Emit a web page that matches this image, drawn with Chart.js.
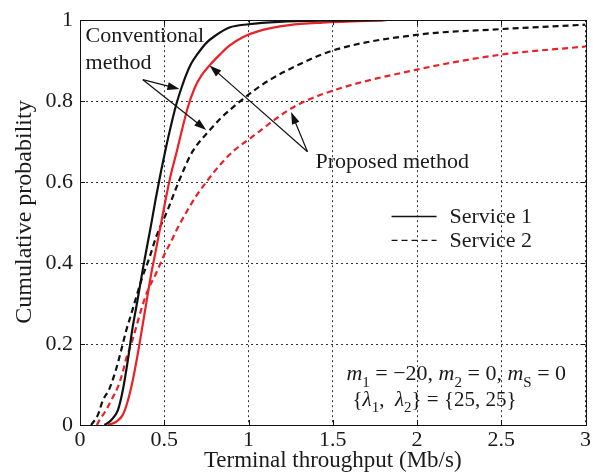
<!DOCTYPE html>
<html>
<head>
<meta charset="utf-8">
<script src="https://cdn.jsdelivr.net/npm/chart.js@4.4.0/dist/chart.umd.min.js"></script>
<style>
  html, body { margin: 0; padding: 0; background: #fff; }
  #wrap { width: 593px; height: 472px; }
</style>
</head>
<body>
<div id="wrap"><canvas id="cdfChart" width="593" height="472"></canvas></div>
<script>
// CDF of terminal throughput (Mb/s), two methods x two services

// conventional method, service 1
const convS1X = [0.145, 0.185, 0.225, 0.254, 0.284, 0.31, 0.34, 0.375, 0.42, 0.45, 0.48, 0.51, 0.54, 0.57, 0.60, 0.63, 0.66, 0.70, 0.75, 0.80, 0.887, 1.0, 1.18, 1.5, 1.8];
const convS1Y = [0, 0.012, 0.037, 0.086, 0.16, 0.235, 0.305, 0.39, 0.49, 0.56, 0.625, 0.685, 0.74, 0.79, 0.83, 0.865, 0.893, 0.918, 0.944, 0.961, 0.982, 0.99, 0.996, 0.999, 1.0];

// proposed method, service 1
const propS1X = [0.165, 0.215, 0.254, 0.284, 0.313, 0.343, 0.363, 0.393, 0.422, 0.452, 0.482, 0.512, 0.54, 0.571, 0.60, 0.64, 0.68, 0.72, 0.77, 0.83, 0.887, 0.966, 1.085, 1.243, 1.44, 1.82];
const propS1Y = [0, 0.008, 0.025, 0.06, 0.11, 0.176, 0.225, 0.30, 0.372, 0.435, 0.50, 0.565, 0.62, 0.67, 0.72, 0.785, 0.832, 0.863, 0.889, 0.915, 0.937, 0.958, 0.976, 0.988, 0.994, 1.0];

// conventional method, service 2
const convS2X = [0.066, 0.106, 0.135, 0.175, 0.215, 0.244, 0.274, 0.304, 0.333, 0.37, 0.412, 0.452, 0.521, 0.561, 0.62, 0.67, 0.769, 0.838, 0.897, 0.957, 1.006, 1.065, 1.144, 1.233, 1.5, 2.0, 2.5, 3.0];
const convS2Y = [0, 0.025, 0.06, 0.09, 0.139, 0.184, 0.233, 0.274, 0.315, 0.365, 0.413, 0.465, 0.532, 0.575, 0.635, 0.677, 0.728, 0.759, 0.781, 0.802, 0.818, 0.836, 0.857, 0.877, 0.925, 0.964, 0.978, 0.989];

// proposed method, service 2
const propS2X = [0.10, 0.116, 0.155, 0.185, 0.225, 0.254, 0.274, 0.304, 0.333, 0.363, 0.40, 0.452, 0.501, 0.551, 0.58, 0.64, 0.70, 0.758, 0.838, 0.917, 1.006, 1.085, 1.164, 1.283, 1.5, 2.0, 2.5, 3.0];
const propS2Y = [0, 0.012, 0.037, 0.061, 0.094, 0.131, 0.164, 0.20, 0.241, 0.285, 0.33, 0.375, 0.421, 0.462, 0.487, 0.532, 0.572, 0.605, 0.646, 0.679, 0.707, 0.732, 0.757, 0.789, 0.826, 0.878, 0.915, 0.935];

const xTicks = [0, 0.5, 1, 1.5, 2, 2.5, 3];
const yTicks = [0, 0.2, 0.4, 0.6, 0.8, 1];

const legendNames = ['Service 1', 'Service 2'];

const SERIF = '"Liberation Serif", "Times New Roman", serif';
const BLACK = '#111111';
const RED = '#ea2127';
const TEXT = '#1a1a1a';

function toPoints(xs, ys) {
  return xs.map((x, i) => ({ x: x, y: ys[i] }));
}

function curve(label, xs, ys, color, dashed) {
  return {
    label: label,
    data: toPoints(xs, ys),
    borderColor: color,
    backgroundColor: color,
    borderWidth: 2.2,
    borderDash: dashed ? [6, 4] : [],
    pointRadius: 0,
    fill: false,
    cubicInterpolationMode: 'monotone'
  };
}

function arrow(ctx, x0, y0, x1, y1) {
  const a = Math.atan2(y1 - y0, x1 - x0);
  const len = 12, half = 4;
  ctx.beginPath();
  ctx.moveTo(x0, y0);
  ctx.lineTo(x1 - Math.cos(a) * len * 0.8, y1 - Math.sin(a) * len * 0.8);
  ctx.stroke();
  ctx.beginPath();
  ctx.moveTo(x1, y1);
  ctx.lineTo(x1 - Math.cos(a) * len + Math.sin(a) * half, y1 - Math.sin(a) * len - Math.cos(a) * half);
  ctx.lineTo(x1 - Math.cos(a) * len - Math.sin(a) * half, y1 - Math.sin(a) * len + Math.cos(a) * half);
  ctx.closePath();
  ctx.fill();
}

// text with italic symbols and subscripts: parts = [[text, 'n'|'i'|'s'], ...]
function richText(ctx, x, y, parts, size) {
  let cx = x;
  parts.forEach(([txt, kind]) => {
    let dy = 0;
    if (kind === 'i') ctx.font = 'italic ' + size + 'px ' + SERIF;
    else if (kind === 's') { ctx.font = Math.round(size * 0.7) + 'px ' + SERIF; dy = size * 0.28; }
    else ctx.font = size + 'px ' + SERIF;
    ctx.fillText(txt, cx, y + dy);
    cx += ctx.measureText(txt).width;
  });
}

const decorations = {
  id: 'decorations',
  afterDraw(chart) {
    const { ctx, chartArea: area, scales: { x, y } } = chart;
    const px = v => x.getPixelForValue(v);
    const py = v => y.getPixelForValue(v);

    ctx.save();
    ctx.strokeStyle = BLACK;
    ctx.fillStyle = TEXT;

    // frame and inward tick marks
    ctx.lineWidth = 1;
    ctx.setLineDash([]);
    ctx.strokeRect(Math.round(area.left) + 0.5, Math.round(area.top) + 0.5,
      Math.round(area.right - area.left), Math.round(area.bottom - area.top));
    ctx.beginPath();
    xTicks.forEach(v => {
      const p = Math.round(px(v)) + 0.5;
      ctx.moveTo(p, area.bottom); ctx.lineTo(p, area.bottom - 5);
      ctx.moveTo(p, area.top); ctx.lineTo(p, area.top + 5);
    });
    yTicks.forEach(v => {
      const p = Math.round(py(v)) + 0.5;
      ctx.moveTo(area.left, p); ctx.lineTo(area.left + 5, p);
      ctx.moveTo(area.right, p); ctx.lineTo(area.right - 5, p);
    });
    ctx.stroke();

    // y axis title
    ctx.save();
    ctx.translate(25, 212);
    ctx.rotate(-Math.PI / 2);
    ctx.font = '24px ' + SERIF;
    ctx.textAlign = 'center';
    ctx.textBaseline = 'middle';
    ctx.fillText('Cumulative probability', 0, 0);
    ctx.restore();

    // legend
    ctx.lineWidth = 1.4;
    ctx.beginPath();
    ctx.moveTo(px(1.849), py(0.515)); ctx.lineTo(px(2.116), py(0.515));
    ctx.stroke();
    ctx.setLineDash([6, 4]);
    ctx.beginPath();
    ctx.moveTo(px(1.849), py(0.456)); ctx.lineTo(px(2.116), py(0.456));
    ctx.stroke();
    ctx.setLineDash([]);
    ctx.font = '22px ' + SERIF;
    ctx.textBaseline = 'alphabetic';
    ctx.textAlign = 'left';
    ctx.fillText(legendNames[0], px(2.193), py(0.499));
    ctx.fillText(legendNames[1], px(2.193), py(0.439));

    // annotations
    ctx.fillText('Conventional', px(0.033), py(0.945));
    ctx.fillText('method', px(0.033), py(0.879));
    ctx.fillText('Proposed method', px(1.398), py(0.634));

    ctx.fillStyle = BLACK;
    ctx.lineWidth = 1.2;
    arrow(ctx, px(0.373), py(0.853), px(0.59), py(0.830));
    arrow(ctx, px(0.373), py(0.853), px(0.749), py(0.729));
    arrow(ctx, px(1.350), py(0.675), px(0.769), py(0.888));
    arrow(ctx, px(1.350), py(0.675), px(1.253), py(0.773));

    // simulation parameters
    ctx.fillStyle = TEXT;
    richText(ctx, px(1.581), py(0.110), [
      ['m', 'i'], ['1', 's'], [' = \u221220, ', 'n'],
      ['m', 'i'], ['2', 's'], [' = 0, ', 'n'],
      ['m', 'i'], ['S', 's'], [' = 0', 'n']
    ], 22);
    richText(ctx, px(1.617), py(0.047), [
      ['{', 'n'], ['\u03bb', 'i'], ['1', 's'], [',  ', 'n'],
      ['\u03bb', 'i'], ['2', 's'], ['} = {25, 25}', 'n']
    ], 21);

    ctx.restore();
  }
};

const gridStyle = {
  color: 'rgba(0,0,0,0.8)',
  lineWidth: 1,
  drawTicks: false
};

new Chart(document.getElementById('cdfChart'), {
  type: 'line',
  data: {
    datasets: [
      curve('Conventional, service 1', convS1X, convS1Y, BLACK, false),
      curve('Proposed, service 1', propS1X, propS1Y, RED, false),
      curve('Conventional, service 2', convS2X, convS2Y, BLACK, true),
      curve('Proposed, service 2', propS2X, propS2Y, RED, true)
    ]
  },
  options: {
    responsive: false,
    animation: false,
    devicePixelRatio: 1,
    layout: { padding: { top: 17, right: 7, left: 0, bottom: 0 } },
    plugins: {
      legend: { display: false },
      tooltip: { enabled: false }
    },
    scales: {
      x: {
        type: 'linear',
        min: 0,
        max: 3,
        afterBuildTicks: s => { s.ticks = xTicks.map(v => ({ value: v })); },
        afterFit: s => { s.height = 47; },
        grid: gridStyle,
        border: { display: true, color: BLACK, dash: [2, 3] },
        ticks: {
          padding: 2,
          color: TEXT,
          font: { family: SERIF, size: 22 },
          callback: v => String(v)
        },
        title: {
          display: true,
          text: 'Terminal throughput (Mb/s)',
          color: TEXT,
          font: { family: SERIF, size: 23, lineHeight: 1.0 },
          padding: { top: 0, bottom: 0 }
        }
      },
      y: {
        min: 0,
        max: 1,
        afterBuildTicks: s => { s.ticks = yTicks.map(v => ({ value: v })); },
        afterFit: s => { s.width = 80; },
        grid: gridStyle,
        border: { display: true, color: BLACK, dash: [2, 3] },
        ticks: {
          padding: 7,
          color: TEXT,
          font: { family: SERIF, size: 22 },
          callback: v => String(v)
        },
        title: { display: false }
      }
    }
  },
  plugins: [decorations]
});
</script>
</body>
</html>
